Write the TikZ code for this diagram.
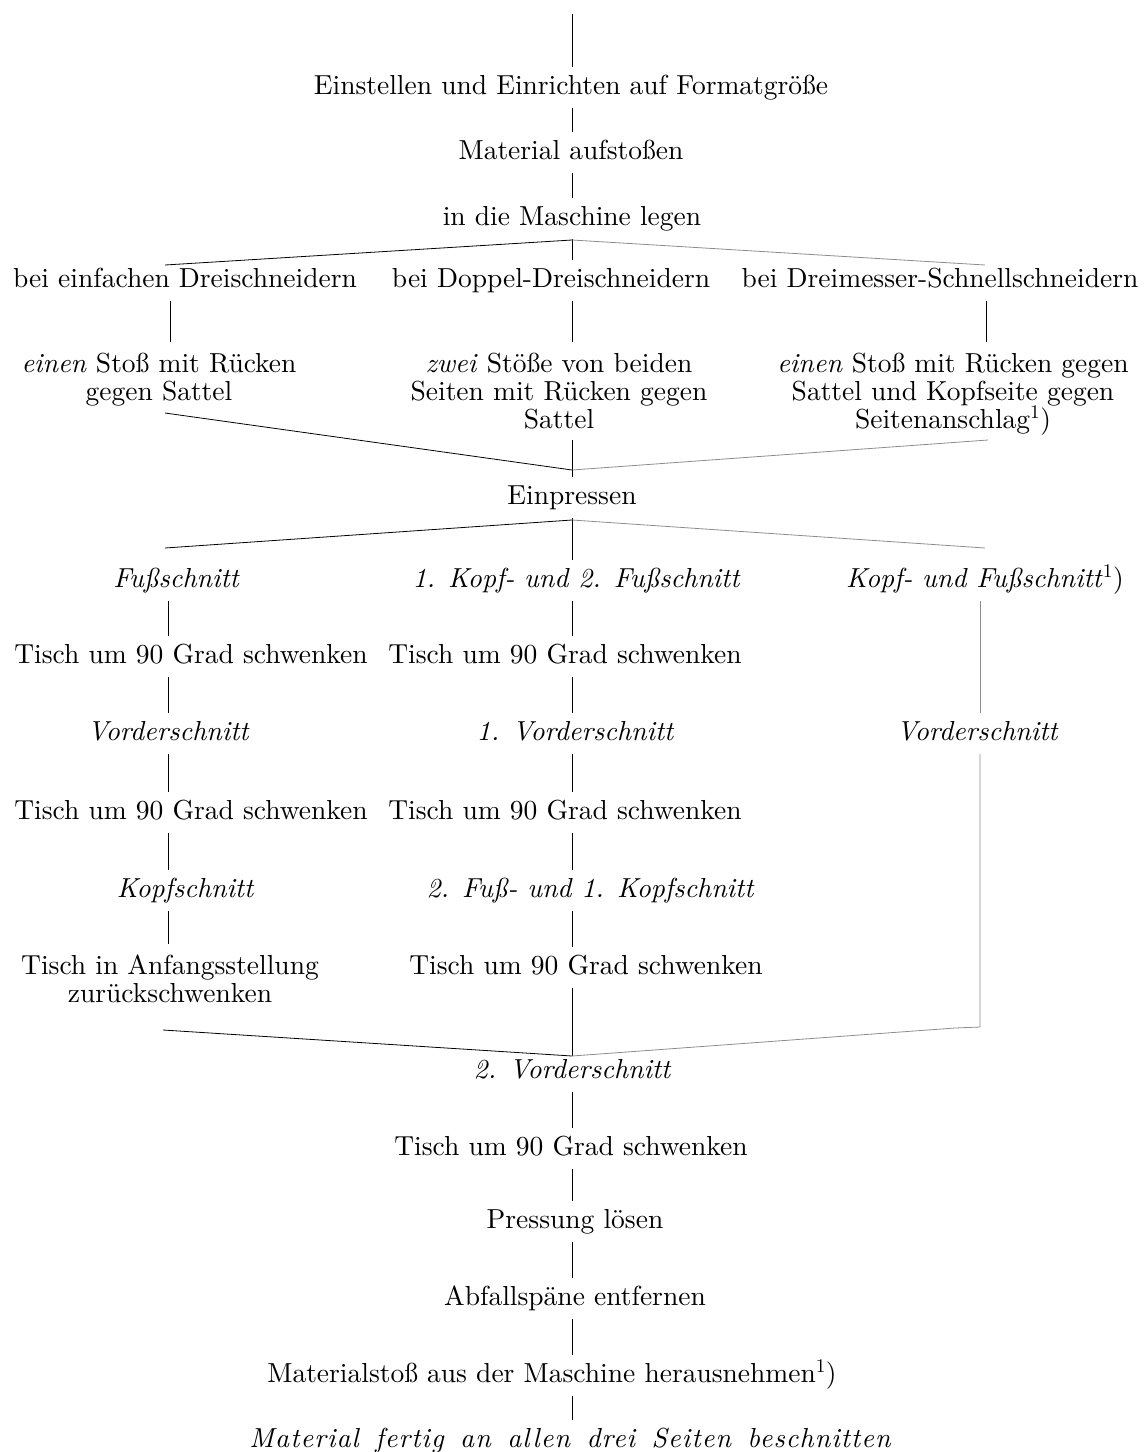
\documentclass[tikz,border=0pt]{standalone}
\usepackage{fontspec}
\setmainfont{lmroman10-regular}[Extension=.otf, ItalicFont=lmroman10-italic]
\newcommand\fs{\fontsize{27.5}{28}\selectfont}
\newcommand\fdfont{\fs\itshape\addfontfeatures{LetterSpace=4}\spaceskip 0.6em plus 0.1em\relax}
\tikzset{
  lab/.style={font=\fs, anchor=base, inner xsep=0pt, inner ysep=8pt,
              text height=19pt, text depth=6pt},
  itlab/.style={lab, font=\fs\itshape},
  blk/.style={font=\fs, anchor=base, inner sep=0pt, align=center},
  conn/.style={line width=0.8pt, black},
  fade/.style={line width=0.8pt, black!45},
}
\newcommand\fnref{\textup{\textsuperscript{1})}}
\begin{document}
\begin{tikzpicture}[x=1pt, y=-1pt]
\useasboundingbox (0,0) rectangle (1144,1452);

% column axes
\coordinate (colA) at (168,0);
\coordinate (colA0) at (170,0);
\coordinate (colM) at (572,0);
\coordinate (colC) at (986,0);
\coordinate (colR) at (980,0);

% upper trunk
\coordinate (top) at (572,14);
\node[lab] (einst) at (571,94) {Einstellen und Einrichten auf Formatgröße};
\node[lab] (aufst) at (571,159) {Material aufstoßen};
\node[lab] (legen) at (572,225) {in die Maschine legen};

% machine types
\node[lab] (bA) at (185,287) {bei einfachen Dreischneidern};
\node[lab] (bB) at (551,287) {bei Doppel-Dreischneidern};
\node[lab] (bC) at (940,287) {bei Dreimesser-Schnellschneidern};

% multi-line blocks sit on the baseline of their last line
\node[blk] (sA) at (159,400) {\emph{einen} Stoß mit Rücken\\gegen Sattel};
\node[blk] (sB) at (559,428) {\emph{zwei} Stöße von beiden\\Seiten mit Rücken gegen\\Sattel};
\node[blk] (sC) at (953,428) {\emph{einen} Stoß mit Rücken gegen\\Sattel und Kopfseite gegen\\Seitenanschlag\fnref};

\node[lab] (einp) at (572,504) {Einpressen};

% cutting sequences
\node[itlab] (fA) at (176,587) {Fußschnitt};
\node[itlab] (fB) at (576,587) {1. Kopf- und 2. Fußschnitt};
\node[itlab] (fC) at (985,587) {Kopf- und Fußschnitt\fnref};

\node[lab] (tA1) at (191,663) {Tisch um 90 Grad schwenken};
\node[lab] (tB1) at (565,663) {Tisch um 90 Grad schwenken};

\node[itlab] (vA) at (168,740) {Vorderschnitt};
\node[itlab] (vB) at (575,740) {1. Vorderschnitt};
\node[itlab] (vC) at (977,740) {Vorderschnitt};

\node[lab] (tA2) at (191,819) {Tisch um 90 Grad schwenken};
\node[lab] (tB2) at (565,819) {Tisch um 90 Grad schwenken};

\node[itlab] (kA) at (185,897) {Kopfschnitt};
\node[itlab] (kB) at (590,897) {2. Fuß- und 1. Kopfschnitt};

\node[blk] (anA) at (170,1002) {Tisch in Anfangsstellung\\zurückschwenken};
\node[lab] (tB3) at (586,974) {Tisch um 90 Grad schwenken};

% lower trunk
\node[itlab] (vz) at (572,1078) {2. Vorderschnitt};
\node[lab] (tD) at (571,1155) {Tisch um 90 Grad schwenken};
\node[lab] (pD) at (575,1228) {Pressung lösen};
\node[lab] (aD) at (575,1305) {Abfallspäne entfernen};
\node[lab] (mD) at (552,1382) {Materialstoß aus der Maschine herausnehmen\fnref};
\node[lab, font=\fdfont] (fD) at (570,1447) {Material fertig an allen drei Seiten beschnitten};

% junctions and branch ends
\coordinate (j1) at (572,240);
\coordinate (j1a) at (165,265);
\coordinate (j1c) at (985,265);
\coordinate (m1a) at (165,413);
\coordinate (m1b) at (572,440);
\coordinate (m1c) at (988,440);
\coordinate (j2) at (572,470);
\coordinate (j3) at (572,520);
\coordinate (j3a) at (165,548);
\coordinate (j3c) at (985,548);
\coordinate (m4a) at (163,1030);
\coordinate (c4) at (980,1027);
\coordinate (c4b) at (955,1028);
\coordinate (j4) at (572,1056);

% trunk connectors
\draw[conn] (top) -- (einst.north -| colM);
\draw[conn] (einst.south -| colM) -- (aufst.north -| colM);
\draw[conn] (aufst.south -| colM) -- (legen.north -| colM);
\draw[conn] (legen.south -| colM) -- (j1);

% split to machine types
\draw[conn] (j1) -- (j1a);
\draw[conn] (j1) -- (bB.north -| colM);
\draw[fade] (j1) -- (j1c);
\draw[conn] (bA.south -| colA0) -- ([yshift=10pt]sA.north -| colA0);
\draw[conn] (bB.south -| colM) -- ([yshift=10pt]sB.north -| colM);
\draw[conn] (bC.south -| colC) -- ([yshift=10pt]sC.north -| colC);

% merge to pressing
\draw[conn] (m1a) -- (j2);
\draw[conn] (m1b) -- (j2);
\draw[fade] (m1c) -- (j2);
\draw[conn] (j2) -- (einp.north -| colM);

% split to cutting sequences
\draw[conn] (einp.south -| colM) -- (j3);
\draw[conn] (j3) -- (j3a);
\draw[fade] (j3) -- (j3c);
\draw[conn] (j3) -- (fB.north -| colM);

% left sequence
\draw[conn] (fA.south -| colA) -- (tA1.north -| colA);
\draw[conn] (tA1.south -| colA) -- (vA.north -| colA);
\draw[conn] (vA.south -| colA) -- (tA2.north -| colA);
\draw[conn] (tA2.south -| colA) -- (kA.north -| colA);
\draw[conn] (kA.south -| colA) -- ([yshift=10pt]anA.north -| colA);

% middle sequence
\draw[conn] (fB.south -| colM) -- (tB1.north -| colM);
\draw[conn] (tB1.south -| colM) -- (vB.north -| colM);
\draw[conn] (vB.south -| colM) -- (tB2.north -| colM);
\draw[conn] (tB2.south -| colM) -- (kB.north -| colM);
\draw[conn] (kB.south -| colM) -- (tB3.north -| colM);
\draw[conn] (tB3.south -| colM) -- (j4);

% right sequence
\draw[fade] (fC.south -| colR) -- (vC.north -| colR);
\draw[fade] (vC.south -| colR) -- (c4) -- (c4b) -- (j4);

% merge to second front cut
\draw[conn] (m4a) -- (j4);

% lower trunk connectors
\draw[conn] (vz.south -| colM) -- (tD.north -| colM);
\draw[conn] (tD.south -| colM) -- (pD.north -| colM);
\draw[conn] (pD.south -| colM) -- (aD.north -| colM);
\draw[conn] (aD.south -| colM) -- (mD.north -| colM);
\draw[conn] (mD.south -| colM) -- (fD.north -| colM);
\end{tikzpicture}
\end{document}
